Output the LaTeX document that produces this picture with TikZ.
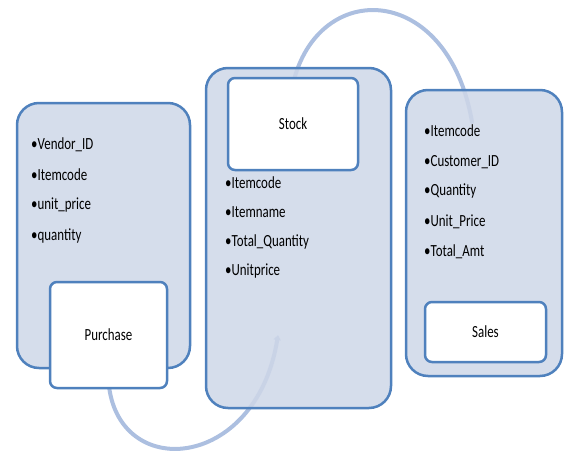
\documentclass[tikz,border=0pt]{standalone}
\usepackage{fontspec}
\setmainfont{Carlito}[FakeStretch=0.76]
\usetikzlibrary{arrows.meta}
\pgfdeclarelayer{back}
\pgfsetlayers{back,main}
\definecolor{edgeblue}{RGB}{79,129,189}
\definecolor{panelfill}{RGB}{206,215,232}
\definecolor{flowblue}{RGB}{172,191,224}
\tikzset{
  panel/.style={draw=edgeblue, line width=2.5pt, fill=panelfill, fill opacity=0.86,
    draw opacity=1, rounded corners=22pt, inner sep=0pt},
  titlebox/.style={draw=edgeblue, line width=2.5pt, fill=white, rounded corners=7pt,
    inner sep=0pt, font=\fontsize{17}{20}\selectfont},
  field/.style={anchor=west, inner sep=0pt, font=\fontsize{17}{20}\selectfont},
  flow/.style={draw=flowblue, line width=4pt, line cap=round},
}
\begin{document}
\begin{tikzpicture}[x=1pt,y=-1pt]
\useasboundingbox (0,0) rectangle (565,450);

% panels
\node[panel, minimum width=173pt, minimum height=265pt] (purchasepanel) at (103.5,235.5) {};
\node[panel, minimum width=185pt, minimum height=340pt] (stockpanel) at (298.5,238) {};
\node[panel, minimum width=156pt, minimum height=286pt] (salespanel) at (484,233) {};

% Purchase
\node[field] (p1) at (31,145) {•Vendor\_ID};
\node[field] (p2) at (31,175) {•Itemcode};
\node[field] (p3) at (31,205) {•unit\_price};
\node[field] (p4) at (31,236) {•quantity};
\node[titlebox, minimum width=117pt, minimum height=106pt] (purchase) at (108.5,335) {Purchase};

% Stock
\node[titlebox, minimum width=130pt, minimum height=92pt] (stock) at (293,124) {Stock};
\node[field] (s1) at (225,183) {•Itemcode};
\node[field] (s2) at (225,212) {•Itemname};
\node[field] (s3) at (225,242) {•Total\_Quantity};
\node[field] (s4) at (225,271) {•Unitprice};

% Sales
\node[field] (t1) at (424,131) {•Itemcode};
\node[field] (t2) at (424,162) {•Customer\_ID};
\node[field] (t3) at (424,191) {•Quantity};
\node[field] (t4) at (424,222) {•Unit\_Price};
\node[field] (t5) at (424,252) {•Total\_Amt};
\node[titlebox, minimum width=121pt, minimum height=60pt] (sales) at (485.5,332) {Sales};

% flow ends inside the panels
\coordinate (stockin) at (278,335);
\coordinate (salesin) at (472,122);

\begin{pgfonlayer}{back}
  \draw[flow, -{Triangle[length=5pt,width=7pt]}] ([yshift=8pt]purchase.south)
    .. controls (116,482) and (256,472) .. (stockin);
  \draw[flow] ([yshift=-7pt]stock.north)
    .. controls (318,-22) and (448,-18) .. (salesin);
\end{pgfonlayer}
\end{tikzpicture}
\end{document}
